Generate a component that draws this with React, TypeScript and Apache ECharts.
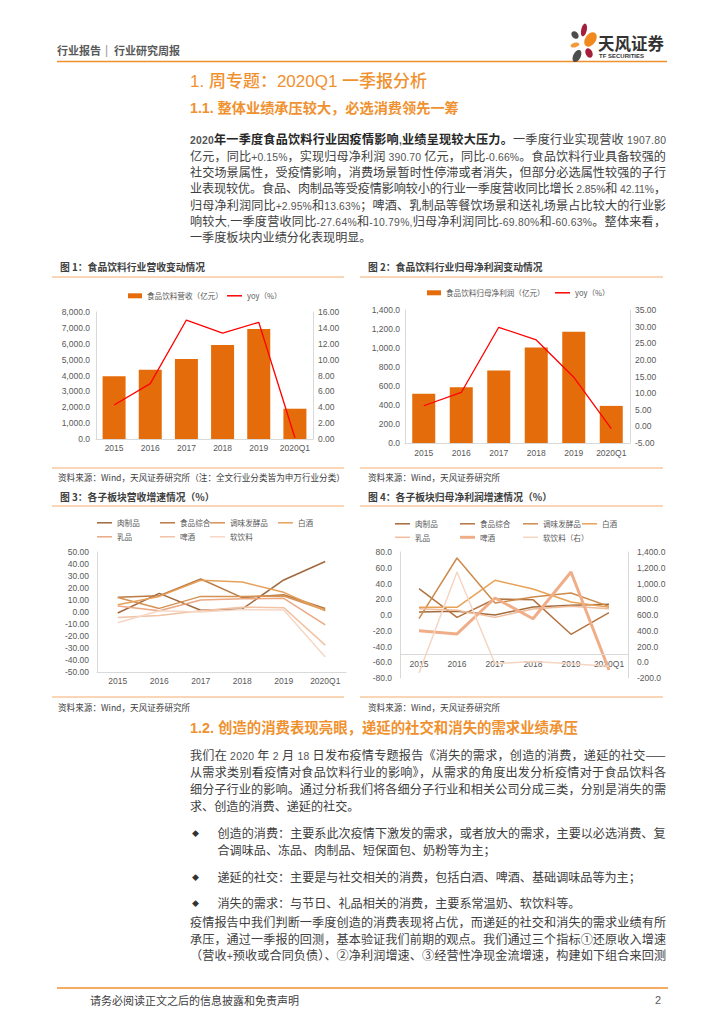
import React, { useEffect, useLayoutEffect, useRef, useState } from 'react';
import * as echarts from 'echarts';

// ---------- data ----------
const years = ['2015', '2016', '2017', '2018', '2019', '2020Q1'];

// 图1 食品饮料行业营收
const revenue = [3950, 4370, 5040, 5920, 6930, 1907.8];
const revenueYoy = [4.28, 6.97, 14.99, 13.35, 14.7, 0.15];
// 图2 食品饮料行业归母净利润
const netProfit = [518, 588, 763, 1005, 1172, 390.7];
const netProfitYoy = [6.2, 10.2, 29.8, 26.0, 14.8, -0.66];

// 图3 各子板块营收增速（%）
const revMeat = [-0.8, 15.5, 1.5, 2.5, 26.7, 42.11];
const revFood = [12.2, 13.5, 27.5, 12.0, 14.4, 2.85];
const revCondiment = [12.0, 3.0, 13.0, 13.0, 13.3, 1.5];
const revLiquor = [6.0, 13.0, 26.5, 25.0, 16.4, 1.0];
const revDairy = [5.0, 1.0, 10.0, 11.0, 11.4, -10.79];
const revBeer = [-4.5, -3.0, 1.0, 4.0, 3.6, -27.64];
const revSoft = [-9.0, 1.0, 0.0, 2.0, 1.7, -37.5];

// 图4 各子板块归母净利润增速（%）
const npMeat = [3.8, 4.7, 0.0, 10.2, 12.3, 13.63];
const npFood = [33.4, -3.0, 20.3, 19.5, -24.5, 2.95];
const npCondiment = [-4.7, 72.4, 15.2, 22.9, 27.9, 11.0];
const npLiquor = [9.7, 9.7, 44.0, 33.0, 16.5, 9.7];
const npDairy = [8.0, 6.0, -3.0, 7.6, 11.0, 8.0];
const npBeer = [-19.9, -24.0, 21.6, -4.7, 54.6, -69.8];
const npSoftRight = [-136, 1146, -18, 8, -18, -52];

const sectorNames = ['肉制品', '食品综合', '调味发酵品', '白酒', '乳品', '啤酒', '软饮料'];
const c3Colors = ['#A0683C', '#BA7A44', '#D59252', '#E5A15C', '#EBA883', '#F1C2A3', '#F6D7C5'];
const c4Colors = ['#A36B3C', '#B47442', '#CC8B4C', '#E8A257', '#EEBC9B', '#F0AE88', '#F6D5C1'];

// ---------- styles ----------
const AX = '#D9D9D9';
const LBL = '#595959';
const NUMF = '"Liberation Sans", Arial, sans-serif';
const CJK = '"Noto Sans CJK SC", sans-serif';
const BODY = '"Noto Sans CJK SC", sans-serif';
const HEAD = '"Liberation Sans", "Noto Sans CJK SC", sans-serif';
const ORANGE = '#F0912F';
const PEACH = '#F6AE6E';

const fmtComma = (v: number) =>
  v.toLocaleString('en-US', { minimumFractionDigits: 1, maximumFractionDigits: 1 });

const yAx = (grid: number, pos: string, min: number, max: number, interval: number, fmt: any, margin: number) => ({
  type: 'value',
  gridIndex: grid,
  position: pos,
  min,
  max,
  interval,
  axisLine: { show: true, onZero: false, lineStyle: { color: AX, width: 1 } },
  axisTick: { show: false },
  splitLine: { show: false },
  axisLabel: { fontSize: 8.5, color: LBL, fontFamily: NUMF, margin, formatter: fmt },
});

const xAx = (grid: number, margin: number, showLine = true) => ({
  type: 'category',
  gridIndex: grid,
  data: years,
  axisLine: { show: showLine, onZero: false, lineStyle: { color: AX, width: 1 } },
  axisTick: { show: false },
  splitLine: { show: false },
  axisLabel: { fontSize: 8.5, color: LBL, fontFamily: NUMF, margin, interval: 0 },
});

const lg = (name: string, left: number, cy: number, w: number, h: number) => ({
  data: [name],
  left,
  top: cy - 5,
  itemWidth: w,
  itemHeight: h,
  icon: 'rect',
  padding: 0,
  itemGap: 0,
  selectedMode: false,
  formatter: (n: string) => n.split('|')[1],
  textStyle: { fontSize: 7.6, color: LBL, fontFamily: CJK },
});

const ln = (name: string, data: number[], color: string, xi: number, yi: number, width = 1.5) => ({
  type: 'line',
  name,
  data,
  xAxisIndex: xi,
  yAxisIndex: yi,
  symbol: 'none',
  showSymbol: false,
  silent: true,
  lineStyle: { color, width },
  itemStyle: { color },
  emphasis: { disabled: true },
});

const rule = (x1: number, x2: number, y: number, stroke: string, w: number) => ({
  type: 'line',
  silent: true,
  shape: { x1, y1: y, x2, y2: y },
  style: { stroke, lineWidth: w },
});

const petal = (cx: number, cy: number, rx: number, ry: number, deg: number, fill: string) => ({
  type: 'ellipse',
  silent: true,
  x: cx,
  y: cy,
  rotation: (deg * Math.PI) / 180,
  shape: { cx: 0, cy: 0, rx, ry },
  style: { fill },
});

function buildOption() {
  const c3Data = [revMeat, revFood, revCondiment, revLiquor, revDairy, revBeer, revSoft];
  const c4Data = [npMeat, npFood, npCondiment, npLiquor, npDairy, npBeer];

  const c3Series = sectorNames.map((s, i) => ln('c|' + s, c3Data[i], c3Colors[i], 2, 4, 1.5));
  const c4Series: any[] = c4Data.map((d, i) =>
    ln('d|' + sectorNames[i], d, c4Colors[i], 3, 5, sectorNames[i] === '啤酒' ? 3 : 1.5)
  );
  c4Series[0].markLine = {
    silent: true,
    symbol: ['none', 'none'],
    label: { show: false },
    lineStyle: { color: AX, width: 1, type: 'solid' },
    data: [{ yAxis: -50 }],
  };
  c4Series.push(ln('d|软饮料（右）', npSoftRight, c4Colors[6], 3, 6, 1.5));

  const cols3 = [97, 160, 210, 278];
  const cols4 = [395, 460, 523, 582];
  const legends: any[] = [
    lg('a|食品饮料营收（亿元）', 128, 297, 14, 5),
    lg('a|yoy（%）', 227, 297, 15, 1.5),
    lg('b|食品饮料归母净利润（亿元）', 427, 294, 14, 5),
    lg('b|yoy（%）', 555, 294, 15, 1.5),
  ];
  sectorNames.forEach((s, i) => {
    const row = i < 4 ? 0 : 1;
    const col = i < 4 ? i : i - 4;
    legends.push(lg('c|' + s, cols3[col], 524 + row * 14, 15, 1.5));
    const n4 = s === '软饮料' ? '软饮料（右）' : s;
    legends.push(lg('d|' + n4, cols4[col], 525 + row * 13.5, 15, s === '啤酒' ? 3 : 1.5));
  });

  return {
    animation: false,
    backgroundColor: '#ffffff',
    tooltip: { show: false },
    grid: [
      { left: 96, top: 312, width: 217, height: 127 },
      { left: 405, top: 310, width: 225, height: 133 },
      { left: 97, top: 552, width: 249, height: 120 },
      { left: 400, top: 552, width: 228, height: 126 },
    ].map((g) => ({ ...g, containLabel: false, outerBoundsMode: 'none', show: false })),
    legend: legends,
    xAxis: [xAx(0, 4), xAx(1, 5), xAx(2, 4), xAx(3, -19, false)],
    yAxis: [
      yAx(0, 'left', 0, 8000, 1000, fmtComma, 6),
      yAx(0, 'right', 0, 16, 2, (v: number) => v.toFixed(2), 5),
      yAx(1, 'left', 0, 1400, 200, fmtComma, 5),
      yAx(1, 'right', -5, 35, 5, (v: number) => v.toFixed(2), 5),
      yAx(2, 'left', -50, 50, 10, (v: number) => v.toFixed(2), 8),
      yAx(3, 'left', -80, 80, 20, (v: number) => v.toFixed(1), 8),
      yAx(3, 'right', -200, 1400, 200, fmtComma, 9),
    ],
    series: [
      {
        type: 'bar',
        name: 'a|食品饮料营收（亿元）',
        data: revenue,
        xAxisIndex: 0,
        yAxisIndex: 0,
        barWidth: 23,
        silent: true,
        itemStyle: { color: '#E46C0A' },
      },
      ln('a|yoy（%）', revenueYoy, '#FF0000', 0, 1, 1.3),
      {
        type: 'bar',
        name: 'b|食品饮料归母净利润（亿元）',
        data: netProfit,
        xAxisIndex: 1,
        yAxisIndex: 2,
        barWidth: 23,
        silent: true,
        itemStyle: { color: '#E46C0A' },
      },
      ln('b|yoy（%）', netProfitYoy, '#FF0000', 1, 3, 1.3),
      ...c3Series,
      ...c4Series,
    ],
    graphic: [
      rule(57, 667, 61.5, ORANGE, 1.5),
      rule(52, 344, 277, PEACH, 1.2),
      rule(360, 663, 277, PEACH, 1.2),
      rule(52, 344, 468, PEACH, 1.2),
      rule(360, 663, 468, PEACH, 1.2),
      rule(52, 344, 506, PEACH, 1.2),
      rule(360, 663, 506, PEACH, 1.2),
      rule(52, 344, 697, PEACH, 1.2),
      rule(360, 663, 697, PEACH, 1.2),
      rule(57, 668, 988, ORANGE, 1.5),
      petal(575, 35, 3.2, 4.2, 40, '#4D4D4D'),
      petal(584, 30, 2.8, 6.5, -12, '#A51E3C'),
      petal(590.5, 39.5, 5.2, 8, -35, '#F08A1E'),
      petal(575, 45, 4.5, 2.4, 15, '#F39A3B'),
      petal(589, 53, 3.4, 5, 25, '#A51E3C'),
      petal(577, 56, 3.8, 6.5, -25, '#4D4D4D'),
      {
        type: 'text',
        silent: true,
        x: 598,
        y: 43,
        style: {
          text: '天风证券',
          fontSize: 16.5,
          fontWeight: 'bold',
          fontFamily: CJK,
          fill: '#333333',
          verticalAlign: 'middle',
        },
      },
      {
        type: 'text',
        silent: true,
        x: 599,
        y: 56,
        style: {
          text: 'TF SECURITIES',
          fontSize: 6,
          fontWeight: 'bold',
          fontFamily: NUMF,
          fill: '#333333',
          verticalAlign: 'middle',
        },
      },
    ],
  };
}

// ---------- text ----------
const para1First = '2020年一季度食品饮料行业因疫情影响,业绩呈现较大压力。';
const para1FirstRest = '一季度行业实现营收 1907.80';
const para1 = [
  '亿元，同比+0.15%，实现归母净利润 390.70 亿元，同比-0.66%。食品饮料行业具备较强的',
  '社交场景属性，受疫情影响，消费场景暂时性停滞或者消失，但部分必选属性较强的子行',
  '业表现较优。食品、肉制品等受疫情影响较小的行业一季度营收同比增长 2.85%和 42.11%，',
  '归母净利润同比+2.95%和13.63%；啤酒、乳制品等餐饮场景和送礼场景占比较大的行业影',
  '响较大,一季度营收同比-27.64%和-10.79%,归母净利润同比-69.80%和-60.63%。整体来看，',
];
const para1Last = '一季度板块内业绩分化表现明显。';
const para2 = [
  '我们在 2020 年 2 月 18 日发布疫情专题报告《消失的需求，创造的消费，递延的社交——',
  '从需求类别看疫情对食品饮料行业的影响》，从需求的角度出发分析疫情对于食品饮料各',
  '细分子行业的影响。通过分析我们将各细分子行业和相关公司分成三类，分别是消失的需',
];
const para3 = [
  '疫情报告中我们判断一季度创造的消费表现将占优，而递延的社交和消失的需求业绩有所',
  '承压，通过一季报的回测，基本验证我们前期的观点。我们通过三个指标①还原收入增速',
  '（营收+预收或合同负债）、②净利润增速、③经营性净现金流增速，构建如下组合来回测',
];

// ASCII runs (digits, %, Latin) are set slightly smaller in a Latin font, like the reference
function mix(text: string, key = 'm') {
  const parts = text.split(/([\x20-\x7E]+)/);
  return parts.map((p, i) =>
    /^[\x20-\x7E]+$/.test(p) ? (
      <span key={key + i} style={{ fontFamily: NUMF, fontSize: '0.86em', color: '#555' }}>
        {p}
      </span>
    ) : (
      <React.Fragment key={key + i}>{p}</React.Fragment>
    )
  );
}

type TP = {
  x: number;
  y: number;
  w?: number;
  size?: number;
  lh?: number;
  color?: string;
  weight?: number;
  font?: string;
  children?: React.ReactNode;
};

function T({ x, y, size = 12.1, lh = 16, color = '#404040', weight = 400, font = BODY, children }: TP) {
  const style: React.CSSProperties = {
    position: 'absolute',
    left: x,
    top: y - lh / 2,
    height: lh,
    lineHeight: `${lh}px`,
    fontSize: size,
    color,
    fontWeight: weight,
    fontFamily: font,
    whiteSpace: 'nowrap',
    margin: 0,
    padding: 0,
  };
  return <div style={style}>{children}</div>;
}

// a single line stretched (or squeezed) to an exact width by letter spacing
function J({ x, y, w = 476, size = 12.1, lh = 16, color = '#404040', weight = 400, font = BODY, children }: TP) {
  const spanRef = useRef<HTMLSpanElement>(null);
  const [ls, setLs] = useState(0);
  useLayoutEffect(() => {
    const measure = () => {
      const el = spanRef.current;
      if (!el || !el.parentElement) return;
      const parent = el.parentElement;
      const prev = parent.style.letterSpacing;
      parent.style.letterSpacing = '0px';
      const natural = el.getBoundingClientRect().width;
      parent.style.letterSpacing = prev;
      const n = (el.textContent || '').length;
      if (n > 1) setLs((w - natural) / (n - 1));
    };
    measure();
    const fonts = (document as any).fonts;
    if (fonts && fonts.ready) fonts.ready.then(measure);
  }, [w]);
  const style: React.CSSProperties = {
    position: 'absolute',
    left: x,
    top: y - lh / 2,
    height: lh,
    lineHeight: `${lh}px`,
    fontSize: size,
    color,
    fontWeight: weight,
    fontFamily: font,
    whiteSpace: 'nowrap',
    letterSpacing: `${ls}px`,
    margin: 0,
    padding: 0,
  };
  return (
    <div style={style}>
      <span ref={spanRef}>{children}</span>
    </div>
  );
}

export default function App() {
  const ref = useRef<HTMLDivElement>(null);

  useEffect(() => {
    if (!ref.current) return;
    const chart = echarts.init(ref.current, undefined, { renderer: 'svg' });
    chart.setOption(buildOption() as any);
    return () => chart.dispose();
  }, []);

  const figTitle = { size: 9.8, weight: 700, color: '#404040', font: CJK, lh: 12 };
  const src = { size: 8.6, color: '#404040', font: BODY, lh: 11 };

  return (
    <div
      style={{
        position: 'absolute',
        left: 0,
        top: 0,
        width: 724,
        height: 1024,
        background: '#ffffff',
        overflow: 'hidden',
      }}
    >
      <div ref={ref} style={{ position: 'absolute', left: 0, top: 0, width: 724, height: 1024 }} />

      {/* header */}
      <T x={57} y={50} size={11} weight={700} color="#595959" font={CJK} lh={14}>行业报告</T>
      <T x={105} y={50} size={12} color="#9a9a9a" font={NUMF} lh={14}>|</T>
      <T x={114} y={50} size={11} weight={700} color="#595959" font={CJK} lh={14}>行业研究周报</T>

      {/* headings */}
      <T x={190} y={82} size={17} weight={500} color={ORANGE} font={HEAD} lh={22}>1. 周专题：2020Q1 一季报分析</T>
      <T x={190} y={108} size={14.2} weight={700} color={ORANGE} font={HEAD} lh={18}>1.1. 整体业绩承压较大，必选消费领先一筹</T>

      {/* paragraph 1 */}
      <J x={190} y={139.3}>
        <span style={{ fontWeight: 700, color: '#262626' }}>{mix(para1First, 'b')}</span>
        {mix(para1FirstRest, 'r')}
      </J>
      {para1.map((t, i) => (
        <J key={'p1' + i} x={190} y={139.3 + (i + 1) * 16.3}>{mix(t)}</J>
      ))}
      <T x={190} y={139.3 + 6 * 16.3}>{mix(para1Last)}</T>

      {/* figure titles */}
      <T x={60} y={267} {...figTitle}>图 1：食品饮料行业营收变动情况</T>
      <T x={368} y={267} {...figTitle}>图 2：食品饮料行业归母净利润变动情况</T>
      <T x={60} y={497} {...figTitle}>图 3：各子板块营收增速情况（%）</T>
      <T x={368} y={497} {...figTitle}>图 4：各子板块归母净利润增速情况（%）</T>

      {/* sources */}
      <T x={58} y={477} {...src}>资料来源：Wind，天风证券研究所（注：全文行业分类皆为申万行业分类）</T>
      <T x={368} y={477} {...src}>资料来源：Wind，天风证券研究所</T>
      <T x={58} y={707} {...src}>资料来源：Wind，天风证券研究所</T>
      <T x={368} y={707} {...src}>资料来源：Wind，天风证券研究所</T>

      {/* section 1.2 */}
      <T x={190} y={727.5} size={14.4} weight={700} color={ORANGE} font={HEAD} lh={18}>1.2. 创造的消费表现亮眼，递延的社交和消失的需求业绩承压</T>
      {para2.map((t, i) => (
        <J key={'p2' + i} x={190} y={755 + i * 17}>{mix(t)}</J>
      ))}
      <T x={190} y={806}>求、创造的消费、递延的社交。</T>

      <T x={192} y={833} size={7} color="#333" font={CJK}>◆</T>
      <J x={217.5} y={833} w={448}>创造的消费：主要系此次疫情下激发的需求，或者放大的需求，主要以必选消费、复</J>
      <T x={217.5} y={849.5}>合调味品、冻品、肉制品、短保面包、奶粉等为主；</T>

      <T x={192} y={876.5} size={7} color="#333" font={CJK}>◆</T>
      <T x={217.5} y={876.5}>递延的社交：主要是与社交相关的消费，包括白酒、啤酒、基础调味品等为主；</T>

      <T x={192} y={903} size={7} color="#333" font={CJK}>◆</T>
      <T x={217.5} y={903}>消失的需求：与节日、礼品相关的消费，主要系常温奶、软饮料等。</T>

      {para3.map((t, i) => (
        <J key={'p3' + i} x={190} y={922 + i * 16.6}>{mix(t)}</J>
      ))}

      {/* footer */}
      <T x={90} y={1000} size={11} color="#404040" font={CJK} lh={14}>请务必阅读正文之后的信息披露和免责声明</T>
      <T x={655} y={1000} size={11} color="#595959" font={NUMF} lh={14}>2</T>
    </div>
  );
}
